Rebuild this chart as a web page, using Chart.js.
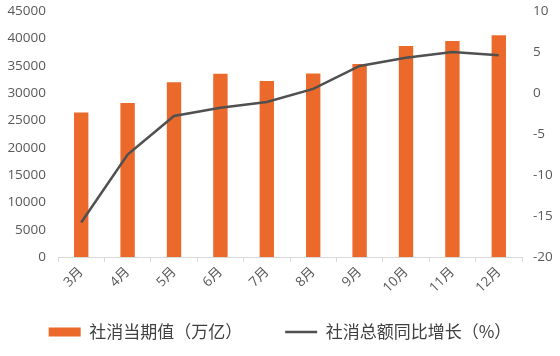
<!DOCTYPE html>
<html>
<head>
<meta charset="utf-8">
<script src="https://cdn.jsdelivr.net/npm/chart.js@4/dist/chart.umd.min.js"></script>
<style>
html,body{margin:0;padding:0;background:#fff;}
#wrap{width:560px;height:356px;}
</style>
</head>
<body>
<div id="wrap"><canvas id="c" width="560" height="356"></canvas></div>
<script>
const categories = ['3月','4月','5月','6月','7月','8月','9月','10月','11月','12月'];
const retailValues = [26450, 28178, 31973, 33526, 32203, 33571, 35295, 38576, 39514, 40566];
const growthValues = [-15.8, -7.5, -2.8, -1.8, -1.1, 0.5, 3.3, 4.3, 5.0, 4.6];
const barLabel = '社消当期值（万亿）';
const lineLabel = '社消总额同比增长（%）';

const tickFont = {family: '"Open Sans", "Noto Sans CJK SC", sans-serif', size: 13.5};
const tickColor = '#595959';

// let the rotated x labels extend below the x scale box (they would otherwise be clipped)
const unclipXLabels = {
  id: 'unclipXLabels',
  afterLayout(chart) {
    const x = chart.scales.x;
    x._computeLabelArea = function () {
      return {top: this.top, left: 0, bottom: this.chart.height, right: this.chart.width};
    };
  }
};

new Chart(document.getElementById('c'), {
  data: {
    labels: categories,
    datasets: [
      {
        type: 'bar',
        label: barLabel,
        data: retailValues,
        backgroundColor: '#EB6A2B',
        borderWidth: 0,
        yAxisID: 'y',
        order: 2,
        barPercentage: 0.31,
        categoryPercentage: 1,
        pointStyle: 'rect'
      },
      {
        type: 'line',
        label: lineLabel,
        data: growthValues,
        borderColor: '#505050',
        backgroundColor: '#505050',
        borderWidth: 2.5,
        pointRadius: 0,
        tension: 0,
        yAxisID: 'y1',
        order: 1,
        pointStyle: 'line'
      }
    ]
  },
  plugins: [unclipXLabels],
  options: {
    responsive: false,
    animation: false,
    layout: {padding: {top: 11, left: 0, right: 0, bottom: 5.5}},
    plugins: {
      tooltip: {enabled: false},
      legend: {
        position: 'bottom',
        labels: {
          usePointStyle: true,
          pointStyleWidth: 32,
          boxHeight: 9,
          padding: 43,
          color: '#404040',
          font: {family: '"Noto Sans CJK SC", sans-serif', size: 17},
          sort: (a, b) => a.datasetIndex - b.datasetIndex
        }
      }
    },
    scales: {
      x: {
        offset: true,
        grid: {display: true, drawOnChartArea: false, color: '#d9d9d9', tickLength: 5, offset: true},
        border: {display: true, color: '#d9d9d9'},
        ticks: {color: tickColor, font: tickFont, maxRotation: 45, minRotation: 45, padding: 2},
        afterFit: (s) => { s.paddingLeft = 0; s.paddingRight = 0; s.paddingTop = 0; s.paddingBottom = 0; s.height = 23.5; }
      },
      y: {
        position: 'left',
        min: 0, max: 45000,
        grid: {display: false, drawTicks: false},
        border: {display: false},
        ticks: {stepSize: 5000, color: tickColor, font: tickFont, padding: 12, callback: (v) => String(v)},
        afterFit: (s) => { s.width = 58; s.paddingTop = 0; s.paddingBottom = 0; }
      },
      y1: {
        position: 'right',
        min: -20, max: 10,
        grid: {display: false, drawTicks: false},
        border: {display: false},
        ticks: {stepSize: 5, color: tickColor, font: tickFont, padding: 11, callback: (v) => String(v)},
        afterFit: (s) => { s.width = 38; s.paddingTop = 0; s.paddingBottom = 0; }
      }
    }
  }
});
</script>
</body>
</html>
